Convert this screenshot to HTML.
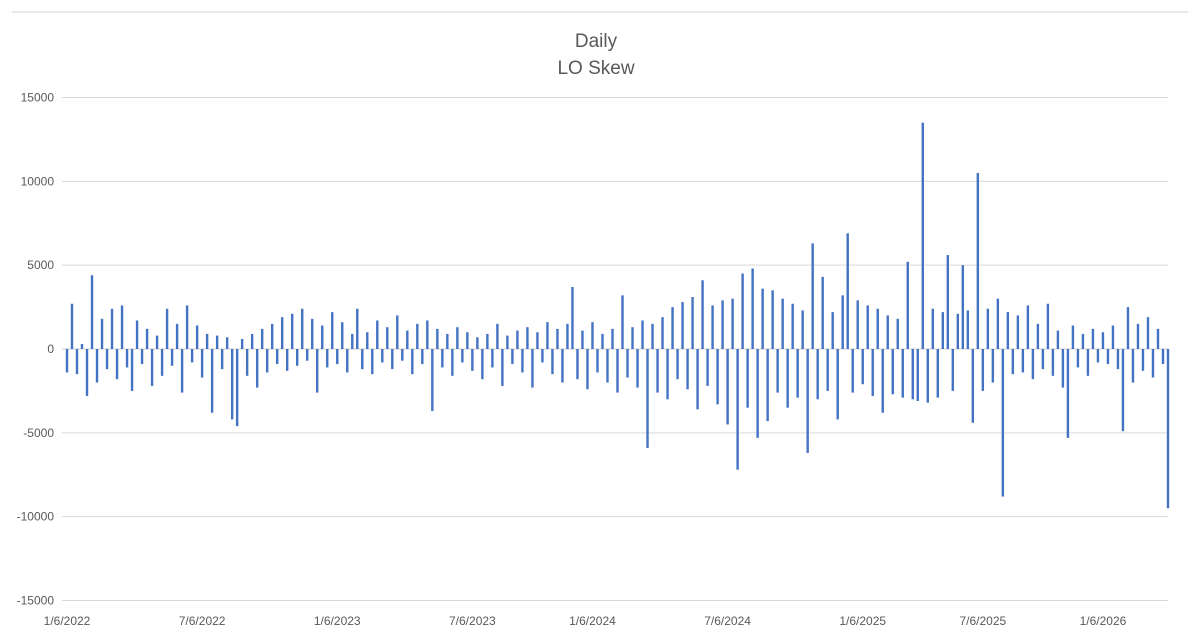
<!DOCTYPE html>
<html><head><meta charset="utf-8"><style>
body{margin:0;background:#fff;}
svg{display:block;font-family:"Liberation Sans",Arial,sans-serif;}
</style></head><body>
<svg id="chart" width="1200" height="636" viewBox="0 0 1200 636">
<line x1="12" y1="12" x2="1188" y2="12" stroke="#d0d0d0" stroke-width="1"/>
<text x="596" y="47" text-anchor="middle" font-size="19" fill="#595959">Daily</text>
<text x="596" y="74" text-anchor="middle" font-size="19" fill="#595959">LO Skew</text>
<g id="grid"></g><g id="bars"></g><g id="ylabels"></g><g id="xlabels"></g>
</svg>
<script>
const yTicks=[15000,10000,5000,0,-5000,-10000,-15000];
const xLabels=["1/6/2022","7/6/2022","1/6/2023","7/6/2023","1/6/2024","7/6/2024","1/6/2025","7/6/2025","1/6/2026"];
const xLabelSlots=[0,27,54,81,105,132,159,183,207];
const values=[
-1400,2700,-1500,300,-2800,4400,-2000,1800,-1200,2400,
-1800,2600,-1100,-2500,1700,-900,1200,-2200,800,-1600,
2400,-1000,1500,-2600,2600,-800,1400,-1700,900,-3800,
800,-1200,700,-4200,-4600,600,-1600,900,-2300,1200,
-1400,1500,-900,1900,-1300,2100,-1000,2400,-700,1800,
-2600,1400,-1100,2200,-900,1600,-1400,900,2400,-1200,
1000,-1500,1700,-800,1300,-1200,2000,-700,1100,-1500,
1500,-900,1700,-3700,1200,-1100,900,-1600,1300,-800,
1000,-1300,700,-1800,900,-1100,1500,-2200,800,-900,
1100,-1400,1300,-2300,1000,-800,1600,-1500,1200,-2000,
1500,3700,-1800,1100,-2400,1600,-1400,900,-2000,1200,
-2600,3200,-1700,1300,-2300,1700,-5900,1500,-2600,1900,
-3000,2500,-1800,2800,-2400,3100,-3600,4100,-2200,2600,
-3300,2900,-4500,3000,-7200,4500,-3500,4800,-5300,3600,
-4300,3500,-2600,3000,-3500,2700,-2900,2300,-6200,6300,
-3000,4300,-2500,2200,-4200,3200,6900,-2600,2900,-2100,
2600,-2800,2400,-3800,2000,-2700,1800,-2900,5200,-3000,
-3100,13500,-3200,2400,-2900,2200,5600,-2500,2100,5000,
2300,-4400,10500,-2500,2400,-2000,3000,-8800,2200,-1500,
2000,-1400,2600,-1800,1500,-1200,2700,-1600,1100,-2300,
-5300,1400,-1100,900,-1600,1200,-800,1000,-900,1400,
-1200,-4900,2500,-2000,1500,-1300,1900,-1700,1200,-900,
-9500];
const X0=67,X1=1168,Y0=349,PX=251.5/15000;
const yScale=v=>Y0-v*PX;
const xScale=i=>X0+i*(X1-X0)/(values.length-1);
const NS="http://www.w3.org/2000/svg";
const grid=document.getElementById('grid'),bars=document.getElementById('bars'),yl=document.getElementById('ylabels'),xl=document.getElementById('xlabels');
yTicks.forEach(t=>{
  const y=yScale(t);
  const l=document.createElementNS(NS,'line');
  
  
  l.setAttribute('x1',62);l.setAttribute('x2',1168);l.setAttribute('y1',y);l.setAttribute('y2',y);
  l.setAttribute('stroke',t===0?'#cfcfcf':'#d9d9d9');l.setAttribute('stroke-width',1);
  grid.appendChild(l);
  const tx=document.createElementNS(NS,'text');
  
  
  tx.setAttribute('x',54);tx.setAttribute('y',y+4);tx.setAttribute('text-anchor','end');
  tx.setAttribute('font-size',12);tx.setAttribute('fill','#595959');tx.textContent=t;
  yl.appendChild(tx);
});
values.forEach((v,i)=>{
  const r=document.createElementNS(NS,'rect');
  
  
  const x=xScale(i),y=yScale(Math.max(v,0)),h=Math.abs(yScale(v)-Y0);
  r.setAttribute('x',x-1.2);r.setAttribute('y',y);r.setAttribute('width',2.4);r.setAttribute('height',Math.max(h,0.5));
  r.setAttribute('fill','#4472c4');
  bars.appendChild(r);
});
xLabels.forEach((s,k)=>{
  const tx=document.createElementNS(NS,'text');
  
  
  tx.setAttribute('x',xScale(xLabelSlots[k]));tx.setAttribute('y',625);tx.setAttribute('text-anchor','middle');
  tx.setAttribute('font-size',12);tx.setAttribute('fill','#595959');tx.textContent=s;
  xl.appendChild(tx);
});
</script>
</body></html>
